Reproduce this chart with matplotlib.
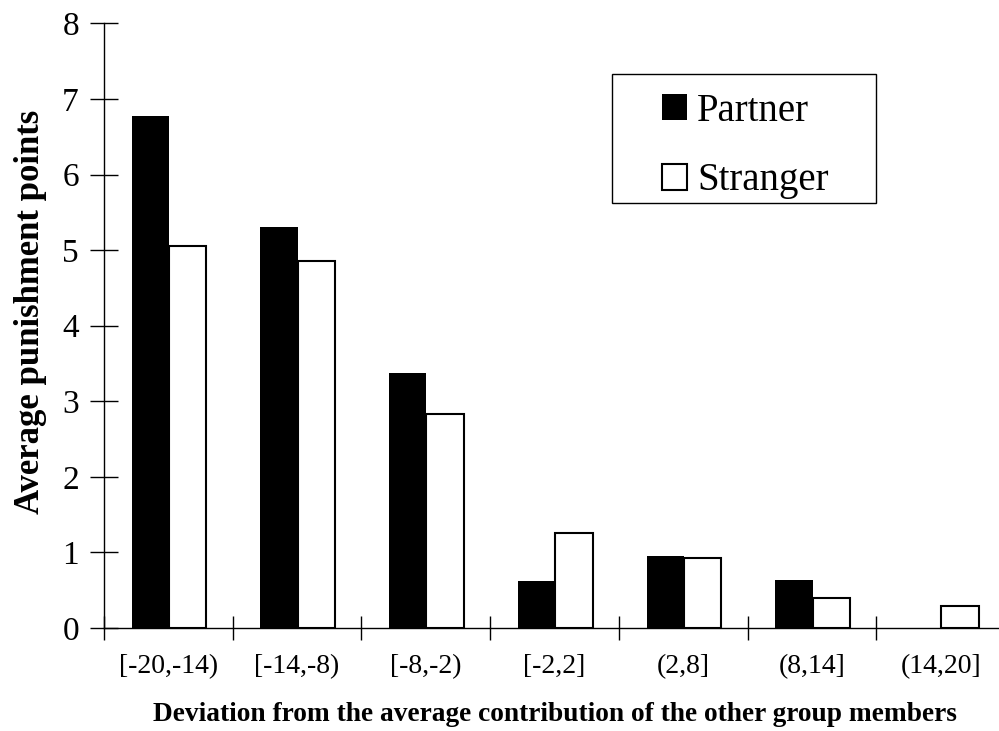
import matplotlib
matplotlib.use("Agg")
from matplotlib import pyplot as plt
from matplotlib.patches import Rectangle
import numpy as np

categories = ["[-20,-14)", "[-14,-8)", "[-8,-2)", "[-2,2]", "(2,8]", "(8,14]", "(14,20]"]
partner = [6.78, 5.30, 3.37, 0.62, 0.95, 0.63, 0.0]
stranger = [5.05, 4.86, 2.83, 1.26, 0.92, 0.40, 0.29]

plt.rcParams["font.family"] = ["Liberation Serif", "DejaVu Serif"]

fig = plt.figure(figsize=(9.99, 7.31), dpi=100)
ax = fig.add_axes([0.1041, 0.1409, 0.902, 0.827])

idx = np.arange(len(categories))
w = 0.29
ax.bar(idx + 0.215, partner, width=w, align="edge", color="black",
       edgecolor="black", linewidth=0, label="Partner")
ax.bar(idx + 0.505, stranger, width=w, align="edge", color="white",
       edgecolor="black", linewidth=1.5, label="Stranger")

ax.set_xlim(0, 7)
ax.set_ylim(0, 8)
ax.spines["top"].set_visible(False)
ax.spines["right"].set_visible(False)
for s in ("left", "bottom"):
    ax.spines[s].set_linewidth(1.0)

ax.set_xticks(np.arange(0, 7))
ax.set_xticklabels([])
ax.set_xticks(idx + 0.5, minor=True)
ax.set_xticklabels(categories, minor=True, fontsize=20)
ax.tick_params(axis="x", which="minor", length=0, pad=19)
ax.tick_params(axis="x", which="major", direction="inout", length=17, width=1.0)

ax.set_yticks(range(9))
ax.tick_params(axis="y", direction="inout", length=20, width=1.0,
               labelsize=24, pad=8)

ax.set_ylabel("Average punishment points", fontsize=25, fontweight="bold")
ax.yaxis.set_label_coords(-0.0635, 0.523)
ax.set_xlabel("Deviation from the average contribution of the other group members",
              fontsize=19.7, fontweight="bold", labelpad=16)

# legend box drawn separately so the padding can match
ax.add_patch(Rectangle((0.564, 0.703), 0.293, 0.2135, transform=ax.transAxes,
                       facecolor="white", edgecolor="black", linewidth=1.0,
                       zorder=4))
leg = ax.legend(loc="upper left", bbox_to_anchor=(0.6193, 0.885),
                borderaxespad=0, borderpad=0, fontsize=28, frameon=False,
                handlelength=0.65, handleheight=0.65, handletextpad=0.25,
                labelspacing=0.83)
leg.set_zorder(5)

fig.savefig("out.png", dpi=100)
